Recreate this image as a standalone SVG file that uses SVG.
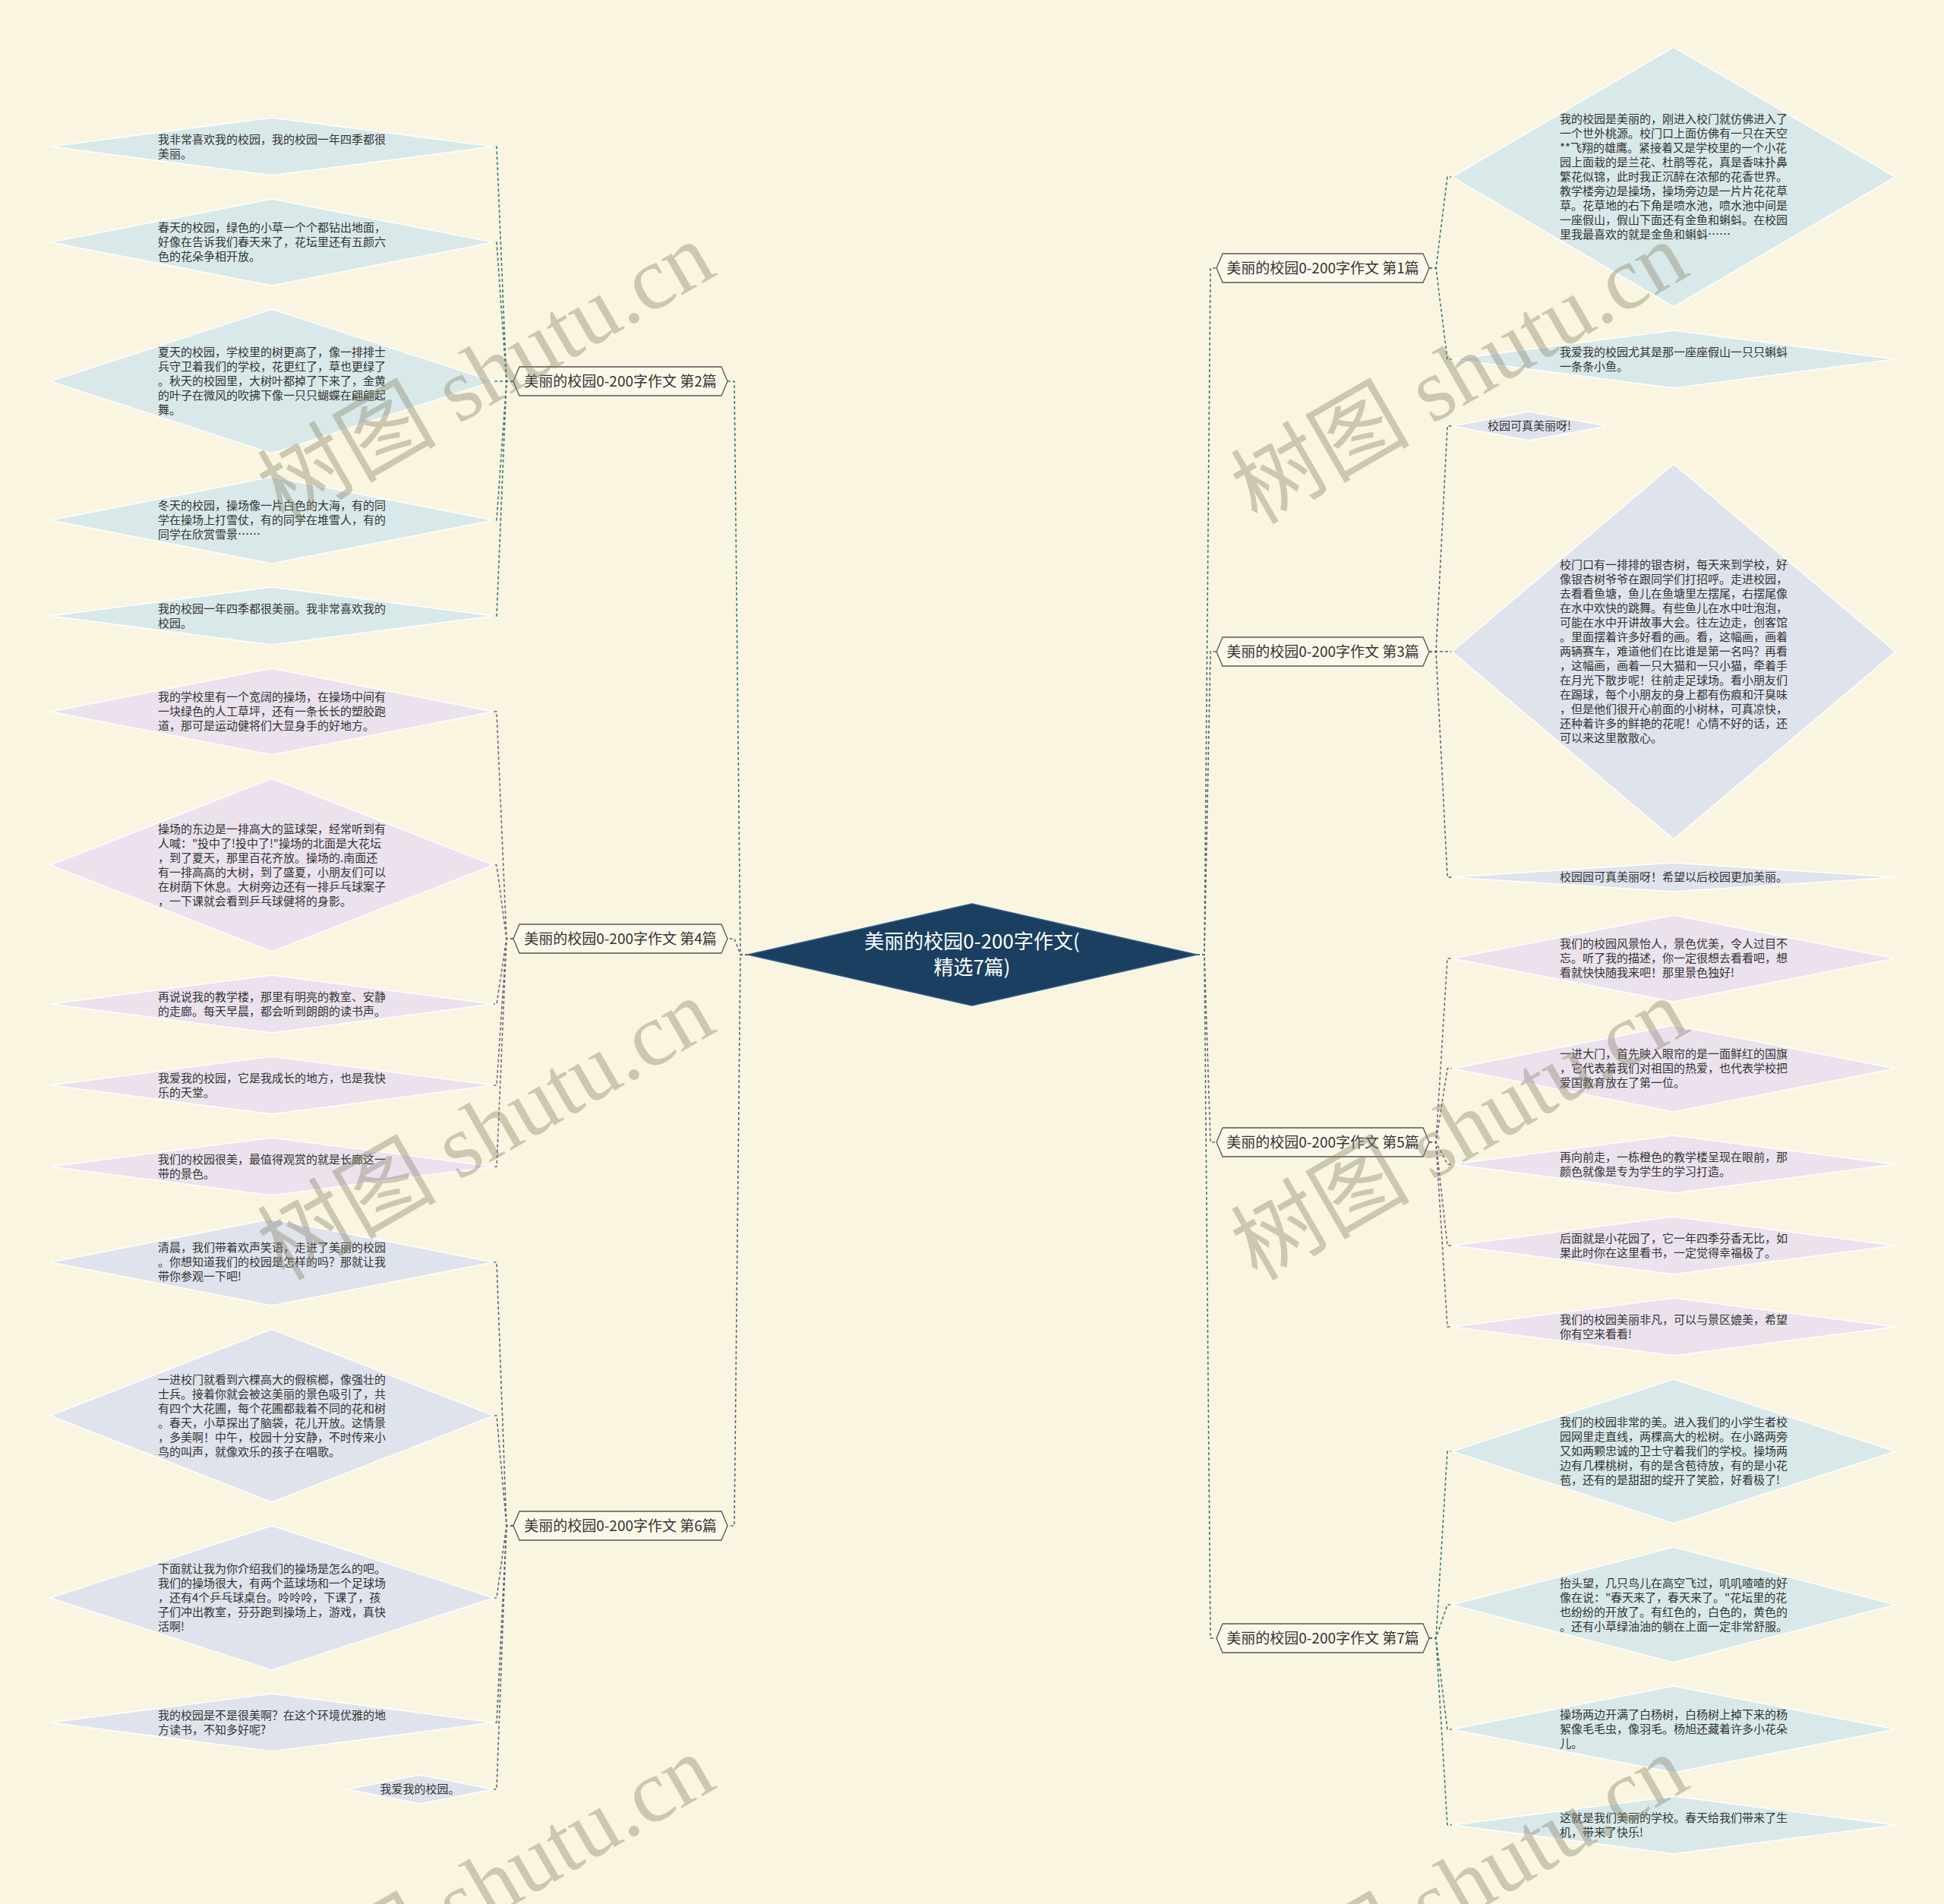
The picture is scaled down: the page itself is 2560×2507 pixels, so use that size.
<svg xmlns="http://www.w3.org/2000/svg" width="2560" height="2507" viewBox="0 0 2560 2507">
<style>
.bg{fill:#f9f5e0}
.lt{font-family:"Noto Sans CJK SC","Noto Sans",sans-serif;font-size:15px;fill:#333}
.bt{font-family:"Noto Sans CJK SC","Noto Sans",sans-serif;font-size:19px;fill:#333;text-anchor:middle}
.rt{font-family:"Noto Sans CJK SC","Noto Sans",sans-serif;font-size:26px;fill:#fff;text-anchor:middle}
.fa{fill:#d9e9ea;stroke:#fff;stroke-width:1.5}
.fb{fill:#ebe2ee;stroke:#fff;stroke-width:1.5}
.fc{fill:#dfe3ec;stroke:#fff;stroke-width:1.5}
.br{fill:#fbf8ea;stroke:#555;stroke-width:1.3}
.cn path{fill:none;stroke-width:1.6;stroke-dasharray:4 3}
.ca{stroke:#3b7b7e}
.cb{stroke:#7d6285}
.cc{stroke:#5c6680}
.wm{font-family:"Liberation Serif","Noto Sans CJK SC",serif;font-size:118px;fill:#8a8468;opacity:0.4;text-anchor:middle}
</style>
<rect class="bg" x="0" y="0" width="2560" height="2507"/>

<g id="connectors" class="cn">
<path class="ca" d="M985 1257H975L967 502H958"/>
<path class="cb" d="M985 1257H975L967 1236H958"/>
<path class="cc" d="M985 1257H975L967 2009H958"/>
<path class="ca" d="M1576 1257H1586L1594 353H1602"/>
<path class="cc" d="M1576 1257H1586L1594 858H1602"/>
<path class="cb" d="M1576 1257H1586L1594 1504H1602"/>
<path class="ca" d="M1576 1257H1586L1594 2157H1602"/>
<path class="ca" d="M676 502H667L654 193H650"/>
<path class="ca" d="M676 502H667L654 319H650"/>
<path class="ca" d="M676 502H650"/>
<path class="ca" d="M676 502H667L654 685H650"/>
<path class="ca" d="M676 502H667L654 811H650"/>
<path class="cb" d="M676 1236H667L654 937H650"/>
<path class="cb" d="M676 1236H667L654 1139H650"/>
<path class="cb" d="M676 1236H667L654 1322H650"/>
<path class="cb" d="M676 1236H667L654 1429H650"/>
<path class="cb" d="M676 1236H667L654 1536H650"/>
<path class="cc" d="M676 2009H667L654 1662H650"/>
<path class="cc" d="M676 2009H667L654 1864H650"/>
<path class="cc" d="M676 2009H667L654 2104H650"/>
<path class="cc" d="M676 2009H667L654 2268H650"/>
<path class="cc" d="M676 2009H667L654 2356H650"/>
<path class="ca" d="M1882 353H1891L1906 233H1912"/>
<path class="ca" d="M1882 353H1891L1906 473H1912"/>
<path class="cc" d="M1882 858H1891L1906 561H1912"/>
<path class="cc" d="M1882 858H1912"/>
<path class="cc" d="M1882 858H1891L1906 1155H1912"/>
<path class="cb" d="M1882 1504H1891L1906 1262H1912"/>
<path class="cb" d="M1882 1504H1891L1906 1407H1912"/>
<path class="cb" d="M1882 1504H1891L1906 1533H1912"/>
<path class="cb" d="M1882 1504H1891L1906 1640H1912"/>
<path class="cb" d="M1882 1504H1891L1906 1747H1912"/>
<path class="ca" d="M1882 2157H1891L1906 1911H1912"/>
<path class="ca" d="M1882 2157H1891L1906 2113H1912"/>
<path class="ca" d="M1882 2157H1891L1906 2277H1912"/>
<path class="ca" d="M1882 2157H1891L1906 2403H1912"/>
</g>

<g id="root">
<polygon points="985,1257 1280,1190 1576,1257 1280,1324" fill="#1b3f60" stroke="#2d5c86" stroke-width="1.5"/>
<text class="rt" x="1280" y="1249">美丽的校园0-200字作文(</text>
<text class="rt" x="1280" y="1283">精选7篇)</text>
</g>

<g id="b2"><polygon class="br" points="676,502 684,483 950,483 958,502 950,521 684,521"/><text class="bt" x="817" y="509">美丽的校园0-200字作文 第2篇</text></g>
<g id="b4"><polygon class="br" points="676,1236 684,1217 950,1217 958,1236 950,1255 684,1255"/><text class="bt" x="817" y="1243">美丽的校园0-200字作文 第4篇</text></g>
<g id="b6"><polygon class="br" points="676,2009 684,1990 950,1990 958,2009 950,2028 684,2028"/><text class="bt" x="817" y="2016">美丽的校园0-200字作文 第6篇</text></g>
<g id="b1"><polygon class="br" points="1602,353 1610,334 1874,334 1882,353 1874,372 1610,372"/><text class="bt" x="1742" y="360">美丽的校园0-200字作文 第1篇</text></g>
<g id="b3"><polygon class="br" points="1602,858 1610,839 1874,839 1882,858 1874,877 1610,877"/><text class="bt" x="1742" y="865">美丽的校园0-200字作文 第3篇</text></g>
<g id="b5"><polygon class="br" points="1602,1504 1610,1485 1874,1485 1882,1504 1874,1523 1610,1523"/><text class="bt" x="1742" y="1511">美丽的校园0-200字作文 第5篇</text></g>
<g id="b7"><polygon class="br" points="1602,2157 1610,2138 1874,2138 1882,2157 1874,2176 1610,2176"/><text class="bt" x="1742" y="2164">美丽的校园0-200字作文 第7篇</text></g>

<g id="l1"><polygon class="fa" points="66,193 358,155 650,193 358,231"/><text class="lt" x="208" y="188.5"><tspan x="208">我非常喜欢我的校园，我的校园一年四季都很</tspan><tspan x="208" dy="19">美丽。</tspan></text></g>
<g id="l2"><polygon class="fa" points="66,319 358,262 650,319 358,376"/><text class="lt" x="208" y="305"><tspan x="208">春天的校园，绿色的小草一个个都钻出地面，</tspan><tspan x="208" dy="19">好像在告诉我们春天来了，花坛里还有五颜六</tspan><tspan x="208" dy="19">色的花朵争相开放。</tspan></text></g>
<g id="l3"><polygon class="fa" points="66,502 358,407 650,502 358,597"/><text class="lt" x="208" y="469"><tspan x="208">夏天的校园，学校里的树更高了，像一排排士</tspan><tspan x="208" dy="19">兵守卫着我们的学校，花更红了，草也更绿了</tspan><tspan x="208" dy="19">。秋天的校园里，大树叶都掉了下来了，金黄</tspan><tspan x="208" dy="19">的叶子在微风的吹拂下像一只只蝴蝶在翩翩起</tspan><tspan x="208" dy="19">舞。</tspan></text></g>
<g id="l4"><polygon class="fa" points="66,685 358,628 650,685 358,742"/><text class="lt" x="208" y="671"><tspan x="208">冬天的校园，操场像一片白色的大海，有的同</tspan><tspan x="208" dy="19">学在操场上打雪仗，有的同学在堆雪人，有的</tspan><tspan x="208" dy="19">同学在欣赏雪景……</tspan></text></g>
<g id="l5"><polygon class="fa" points="66,811 358,773 650,811 358,849"/><text class="lt" x="208" y="806.5"><tspan x="208">我的校园一年四季都很美丽。我非常喜欢我的</tspan><tspan x="208" dy="19">校园。</tspan></text></g>

<g id="l6"><polygon class="fb" points="66,937 358,880 650,937 358,994"/><text class="lt" x="208" y="923"><tspan x="208">我的学校里有一个宽阔的操场，在操场中间有</tspan><tspan x="208" dy="19">一块绿色的人工草坪，还有一条长长的塑胶跑</tspan><tspan x="208" dy="19">道，那可是运动健将们大显身手的好地方。</tspan></text></g>
<g id="l7"><polygon class="fb" points="66,1139 358,1025 650,1139 358,1253"/><text class="lt" x="208" y="1096.5"><tspan x="208">操场的东边是一排高大的篮球架，经常听到有</tspan><tspan x="208" dy="19">人喊："投中了!投中了!"操场的北面是大花坛</tspan><tspan x="208" dy="19">，到了夏天，那里百花齐放。操场的.南面还</tspan><tspan x="208" dy="19">有一排高高的大树，到了盛夏，小朋友们可以</tspan><tspan x="208" dy="19">在树荫下休息。大树旁边还有一排乒乓球案子</tspan><tspan x="208" dy="19">，一下课就会看到乒乓球健将的身影。</tspan></text></g>
<g id="l8"><polygon class="fb" points="66,1322 358,1284 650,1322 358,1360"/><text class="lt" x="208" y="1317.5"><tspan x="208">再说说我的教学楼，那里有明亮的教室、安静</tspan><tspan x="208" dy="19">的走廊。每天早晨，都会听到朗朗的读书声。</tspan></text></g>
<g id="l9"><polygon class="fb" points="66,1429 358,1391 650,1429 358,1467"/><text class="lt" x="208" y="1424.5"><tspan x="208">我爱我的校园，它是我成长的地方，也是我快</tspan><tspan x="208" dy="19">乐的天堂。</tspan></text></g>
<g id="l10"><polygon class="fb" points="66,1536 358,1498 650,1536 358,1574"/><text class="lt" x="208" y="1531.5"><tspan x="208">我们的校园很美，最值得观赏的就是长廊这一</tspan><tspan x="208" dy="19">带的景色。</tspan></text></g>

<g id="l11"><polygon class="fc" points="66,1662 358,1605 650,1662 358,1719"/><text class="lt" x="208" y="1648"><tspan x="208">清晨，我们带着欢声笑语，走进了美丽的校园</tspan><tspan x="208" dy="19">。你想知道我们的校园是怎样的吗？那就让我</tspan><tspan x="208" dy="19">带你参观一下吧!</tspan></text></g>
<g id="l12"><polygon class="fc" points="66,1864 358,1750 650,1864 358,1978"/><text class="lt" x="208" y="1821.5"><tspan x="208">一进校门就看到六棵高大的假槟榔，像强壮的</tspan><tspan x="208" dy="19">士兵。接着你就会被这美丽的景色吸引了，共</tspan><tspan x="208" dy="19">有四个大花圃，每个花圃都栽着不同的花和树</tspan><tspan x="208" dy="19">。春天，小草探出了脑袋，花儿开放。这情景</tspan><tspan x="208" dy="19">，多美啊！中午，校园十分安静，不时传来小</tspan><tspan x="208" dy="19">鸟的叫声，就像欢乐的孩子在唱歌。</tspan></text></g>
<g id="l13"><polygon class="fc" points="66,2104 358,2009 650,2104 358,2199"/><text class="lt" x="208" y="2071"><tspan x="208">下面就让我为你介绍我们的操场是怎么的吧。</tspan><tspan x="208" dy="19">我们的操场很大，有两个蓝球场和一个足球场</tspan><tspan x="208" dy="19">，还有4个乒乓球桌台。呤呤呤，下课了，孩</tspan><tspan x="208" dy="19">子们冲出教室，芬芬跑到操场上，游戏，真快</tspan><tspan x="208" dy="19">活啊!</tspan></text></g>
<g id="l14"><polygon class="fc" points="66,2268 358,2230 650,2268 358,2306"/><text class="lt" x="208" y="2263.5"><tspan x="208">我的校园是不是很美啊？在这个环境优雅的地</tspan><tspan x="208" dy="19">方读书，不知多好呢?</tspan></text></g>
<g id="l15"><polygon class="fc" points="456,2356 553,2337 650,2356 553,2375"/><text class="lt" x="553" y="2361" text-anchor="middle">我爱我的校园。</text></g>

<g id="r1"><polygon class="fa" points="1912,233 2204,62 2496,233 2204,404"/><text class="lt" x="2054" y="162"><tspan x="2054">我的校园是美丽的，刚进入校门就仿佛进入了</tspan><tspan x="2054" dy="19">一个世外桃源。校门口上面仿佛有一只在天空</tspan><tspan x="2054" dy="19">**飞翔的雄鹰。紧接着又是学校里的一个小花</tspan><tspan x="2054" dy="19">园上面栽的是兰花、杜鹃等花，真是香味扑鼻</tspan><tspan x="2054" dy="19">繁花似锦，此时我正沉醉在浓郁的花香世界。</tspan><tspan x="2054" dy="19">教学楼旁边是操场，操场旁边是一片片花花草</tspan><tspan x="2054" dy="19">草。花草地的右下角是喷水池，喷水池中间是</tspan><tspan x="2054" dy="19">一座假山，假山下面还有金鱼和蝌蚪。在校园</tspan><tspan x="2054" dy="19">里我最喜欢的就是金鱼和蝌蚪……</tspan></text></g>
<g id="r2"><polygon class="fa" points="1912,473 2204,435 2496,473 2204,511"/><text class="lt" x="2054" y="468.5"><tspan x="2054">我爱我的校园尤其是那一座座假山一只只蝌蚪</tspan><tspan x="2054" dy="19">一条条小鱼。</tspan></text></g>

<g id="r3"><polygon class="fc" points="1912,561 2014,542 2116,561 2014,580"/><text class="lt" x="2014" y="566" text-anchor="middle">校园可真美丽呀!</text></g>
<g id="r4"><polygon class="fc" points="1912,858 2204,611 2496,858 2204,1105"/><text class="lt" x="2054" y="749"><tspan x="2054">校门口有一排排的银杏树，每天来到学校，好</tspan><tspan x="2054" dy="19">像银杏树爷爷在跟同学们打招呼。走进校园，</tspan><tspan x="2054" dy="19">去看看鱼塘，鱼儿在鱼塘里左摆尾，右摆尾像</tspan><tspan x="2054" dy="19">在水中欢快的跳舞。有些鱼儿在水中吐泡泡，</tspan><tspan x="2054" dy="19">可能在水中开讲故事大会。往左边走，创客馆</tspan><tspan x="2054" dy="19">。里面摆着许多好看的画。看，这幅画，画着</tspan><tspan x="2054" dy="19">两辆赛车，难道他们在比谁是第一名吗？再看</tspan><tspan x="2054" dy="19">，这幅画，画着一只大猫和一只小猫，牵着手</tspan><tspan x="2054" dy="19">在月光下散步呢！往前走足球场。看小朋友们</tspan><tspan x="2054" dy="19">在踢球，每个小朋友的身上都有伤痕和汗臭味</tspan><tspan x="2054" dy="19">，但是他们很开心前面的小树林，可真凉快，</tspan><tspan x="2054" dy="19">还种着许多的鲜艳的花呢！心情不好的话，还</tspan><tspan x="2054" dy="19">可以来这里散散心。</tspan></text></g>
<g id="r5"><polygon class="fc" points="1912,1155 2204,1136 2496,1155 2204,1174"/><text class="lt" x="2054" y="1160">校园园可真美丽呀！希望以后校园更加美丽。</text></g>

<g id="r6"><polygon class="fb" points="1912,1262 2204,1205 2496,1262 2204,1319"/><text class="lt" x="2054" y="1248"><tspan x="2054">我们的校园风景怡人，景色优美，令人过目不</tspan><tspan x="2054" dy="19">忘。听了我的描述，你一定很想去看看吧，想</tspan><tspan x="2054" dy="19">看就快快随我来吧！那里景色独好!</tspan></text></g>
<g id="r7"><polygon class="fb" points="1912,1407 2204,1350 2496,1407 2204,1464"/><text class="lt" x="2054" y="1393"><tspan x="2054">一进大门，首先映入眼帘的是一面鲜红的国旗</tspan><tspan x="2054" dy="19">，它代表着我们对祖国的热爱，也代表学校把</tspan><tspan x="2054" dy="19">爱国教育放在了第一位。</tspan></text></g>
<g id="r8"><polygon class="fb" points="1912,1533 2204,1495 2496,1533 2204,1571"/><text class="lt" x="2054" y="1528.5"><tspan x="2054">再向前走，一栋橙色的教学楼呈现在眼前，那</tspan><tspan x="2054" dy="19">颜色就像是专为学生的学习打造。</tspan></text></g>
<g id="r9"><polygon class="fb" points="1912,1640 2204,1602 2496,1640 2204,1678"/><text class="lt" x="2054" y="1635.5"><tspan x="2054">后面就是小花园了，它一年四季芬香无比，如</tspan><tspan x="2054" dy="19">果此时你在这里看书，一定觉得幸福极了。</tspan></text></g>
<g id="r10"><polygon class="fb" points="1912,1747 2204,1709 2496,1747 2204,1785"/><text class="lt" x="2054" y="1742.5"><tspan x="2054">我们的校园美丽非凡，可以与景区媲美，希望</tspan><tspan x="2054" dy="19">你有空来看看!</tspan></text></g>

<g id="r11"><polygon class="fa" points="1912,1911 2204,1816 2496,1911 2204,2006"/><text class="lt" x="2054" y="1878"><tspan x="2054">我们的校园非常的美。进入我们的小学生者校</tspan><tspan x="2054" dy="19">园网里走直线，两棵高大的松树。在小路两旁</tspan><tspan x="2054" dy="19">又如两颗忠诚的卫士守着我们的学校。操场两</tspan><tspan x="2054" dy="19">边有几棵桃树，有的是含苞待放，有的是小花</tspan><tspan x="2054" dy="19">苞，还有的是甜甜的绽开了笑脸，好看极了!</tspan></text></g>
<g id="r12"><polygon class="fa" points="1912,2113 2204,2037 2496,2113 2204,2189"/><text class="lt" x="2054" y="2089.5"><tspan x="2054">抬头望，几只鸟儿在高空飞过，叽叽喳喳的好</tspan><tspan x="2054" dy="19">像在说："春天来了，春天来了。"花坛里的花</tspan><tspan x="2054" dy="19">也纷纷的开放了。有红色的，白色的，黄色的</tspan><tspan x="2054" dy="19">。还有小草绿油油的躺在上面一定非常舒服。</tspan></text></g>
<g id="r13"><polygon class="fa" points="1912,2277 2204,2220 2496,2277 2204,2334"/><text class="lt" x="2054" y="2263"><tspan x="2054">操场两边开满了白杨树，白杨树上掉下来的杨</tspan><tspan x="2054" dy="19">絮像毛毛虫，像羽毛。杨旭还藏着许多小花朵</tspan><tspan x="2054" dy="19">儿。</tspan></text></g>
<g id="r14"><polygon class="fa" points="1912,2403 2204,2365 2496,2403 2204,2441"/><text class="lt" x="2054" y="2398.5"><tspan x="2054">这就是我们美丽的学校。春天给我们带来了生</tspan><tspan x="2054" dy="19">机，带来了快乐!</tspan></text></g>

<g id="watermarks">
<text class="wm" x="645" y="530" transform="rotate(-30 645 500)">树图 shutu.cn</text>
<text class="wm" x="645" y="1526" transform="rotate(-30 645 1496)">树图 shutu.cn</text>
<text class="wm" x="645" y="2522" transform="rotate(-30 645 2492)">树图 shutu.cn</text>
<text class="wm" x="1927" y="530" transform="rotate(-30 1927 500)">树图 shutu.cn</text>
<text class="wm" x="1927" y="1526" transform="rotate(-30 1927 1496)">树图 shutu.cn</text>
<text class="wm" x="1927" y="2522" transform="rotate(-30 1927 2492)">树图 shutu.cn</text>
</g>
</svg>
